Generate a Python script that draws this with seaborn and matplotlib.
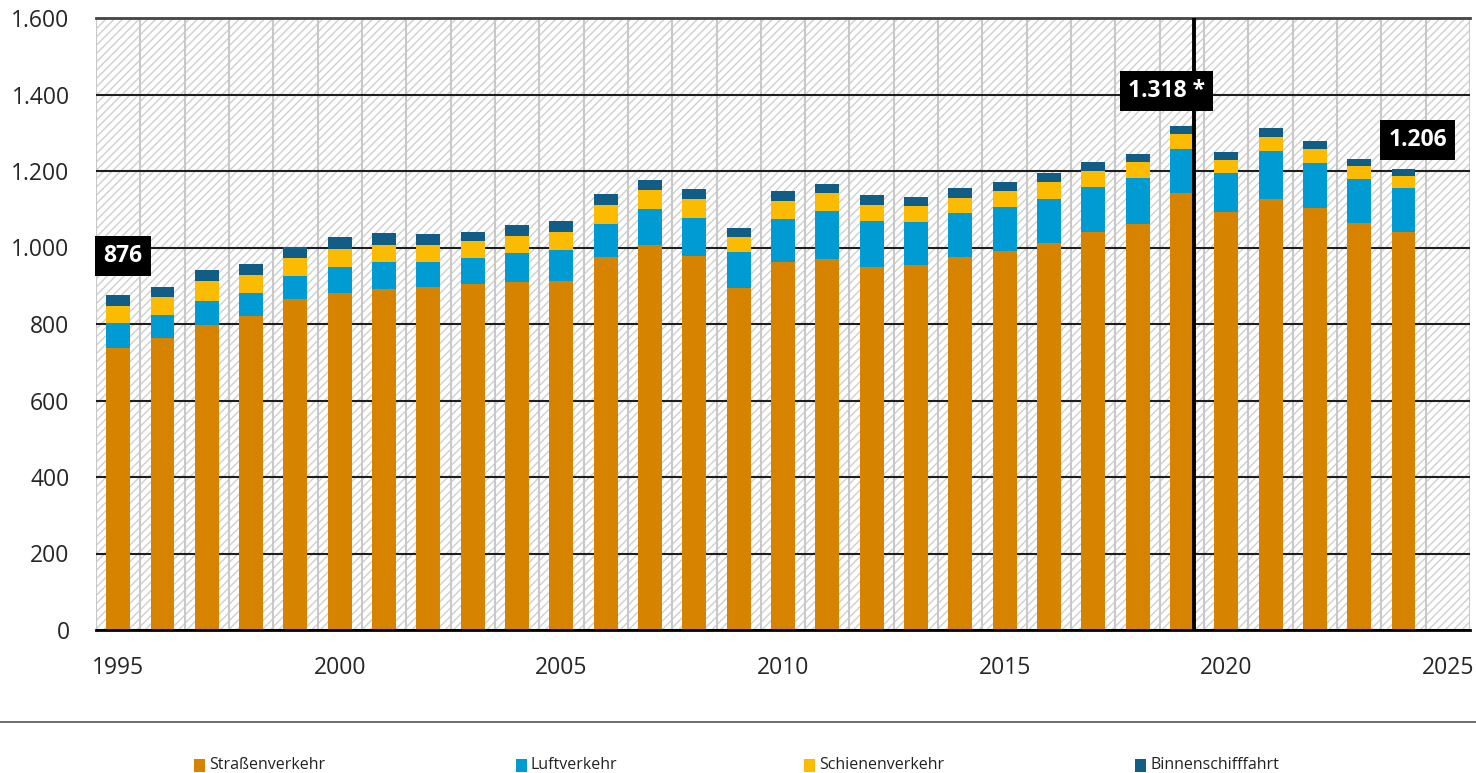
import pandas as pd
import numpy as np
import matplotlib
matplotlib.use("Agg")
import matplotlib.pyplot as plt
import matplotlib.ticker as mticker
from matplotlib.patches import Rectangle
import seaborn as sns

# values (Mio. t)
years = list(range(1995, 2025))
strasse = [736, 763, 797, 821, 865, 882, 892, 896, 905, 911, 912, 974, 1006, 977, 893,
           961, 970, 950, 953, 976, 992, 1011, 1040, 1062, 1142, 1094, 1128, 1102, 1065, 1041]
luft = [66, 61, 63, 60, 60, 67, 71, 67, 68, 75, 81, 88, 95, 101, 95,
        114, 125, 119, 114, 115, 115, 117, 118, 120, 115, 102, 124, 118, 114, 115]
schiene = [45, 47, 52, 46, 48, 47, 44, 43, 43, 45, 48, 50, 50, 48, 40,
           46, 47, 43, 42, 39, 41, 44, 43, 42, 40, 34, 37, 38, 33, 32]
binnen = [29, 27, 28, 31, 29, 31, 30, 28, 25, 28, 27, 27, 26, 26, 22,
          26, 24, 25, 24, 25, 23, 23, 23, 20, 21, 20, 23, 20, 19, 18]

series_names = ["Straßenverkehr", "Luftverkehr", "Schienenverkehr", "Binnenschifffahrt"]
colors = ["#d68400", "#009bd2", "#fabb00", "#125d86"]
axis_years = list(range(1995, 2026))
tick_years = [1995, 2000, 2005, 2010, 2015, 2020, 2025]

df = pd.DataFrame({"Jahr": [str(y) for y in years],
                   "Straßenverkehr": strasse, "Luftverkehr": luft,
                   "Schienenverkehr": schiene, "Binnenschifffahrt": binnen})
cum = df[series_names].cumsum(axis=1)
cum["Jahr"] = df["Jahr"]
df["Gesamt"] = df[series_names].sum(axis=1)


def de_fmt(v, pos=None):
    return f"{int(v):,}".replace(",", ".")


sns.set_style("white")
plt.rcParams["font.family"] = ["Open Sans", "DejaVu Sans"]
plt.rcParams["hatch.linewidth"] = 1.0

fig = plt.figure(figsize=(14.76, 7.73), dpi=100)
ax = fig.add_axes([96 / 1476, 1 - 630 / 773, (1470 - 96) / 1476, (630 - 18) / 773])

# hatched background
bg = Rectangle((0, 0), 1, 1, transform=ax.transAxes, facecolor="white",
               edgecolor="#cfcfcf", hatch="////", linewidth=0, zorder=0)
ax.add_patch(bg)

order = [str(y) for y in axis_years]
# stacked bars: draw the cumulative totals from top to bottom
for name, c in zip(series_names[::-1], colors[::-1]):
    sns.barplot(data=cum, x="Jahr", y=name, order=order, color=c, saturation=1,
                width=0.54, linewidth=0, errorbar=None, ax=ax, zorder=2)

ax.set_xlim(-0.5, len(axis_years) - 0.5)
ax.set_ylim(0, 1600)
ax.set_xlabel("")
ax.set_ylabel("")

ax.set_yticks(np.arange(0, 1601, 200))
ax.yaxis.set_major_formatter(mticker.FuncFormatter(de_fmt))
ax.set_xticks([axis_years.index(y) for y in tick_years])
ax.set_xticklabels([str(y) for y in tick_years])
ax.set_xticks(np.arange(-0.5, len(axis_years)), minor=True)
ax.tick_params(axis="x", which="major", length=0, pad=19, labelsize=16.5)
ax.tick_params(axis="x", which="minor", length=7, width=2, color="black", direction="out")
ax.tick_params(axis="y", length=0, pad=19, labelsize=16.5)

ax.set_axisbelow(True)
ax.grid(axis="y", color="#1e1e1e", linewidth=1.5, zorder=1)
ax.grid(axis="x", which="minor", color="#c8c8c8", linewidth=1.5, zorder=1)
ax.grid(axis="x", which="major", visible=False)

for s in ["left", "right"]:
    ax.spines[s].set_visible(False)
ax.spines["top"].set_color("#444444")
ax.spines["top"].set_linewidth(2)
ax.spines["bottom"].set_color("black")
ax.spines["bottom"].set_linewidth(2)

# marker line after 2019
ax.axvline(years.index(2019) + 0.27, color="black", linewidth=2.8, zorder=5)

box = dict(boxstyle="square,pad=0.35", facecolor="black", edgecolor="none")
labels = [(1995, "", 0.11, 102), (2019, " *", -0.35, 91), (2024, "", 0.32, 75)]
for yr, suffix, dx, dy in labels:
    i = years.index(yr)
    tot = df["Gesamt"].iloc[i]
    ax.text(i + dx, tot + dy, de_fmt(tot) + suffix, ha="center", va="center",
            color="white", fontweight="bold", fontsize=16.5, bbox=box, zorder=6)

# separator line and legend
fig.add_artist(plt.Line2D([0, 1], [1 - 722 / 773, 1 - 722 / 773],
                          color="#555555", linewidth=1.2))
legend_x = [194, 516, 804, 1135]
for name, c, lx in zip(series_names, colors, legend_x):
    fig.add_artist(Rectangle((lx / 1476, 1 - 772 / 773), 11 / 1476, 13 / 773,
                             facecolor=c, edgecolor="none"))
    fig.text((lx + 15) / 1476, 1 - 765 / 773, name, ha="left", va="center",
             fontsize=11.5, color="#222222")

fig.savefig("out.png", dpi=100)
